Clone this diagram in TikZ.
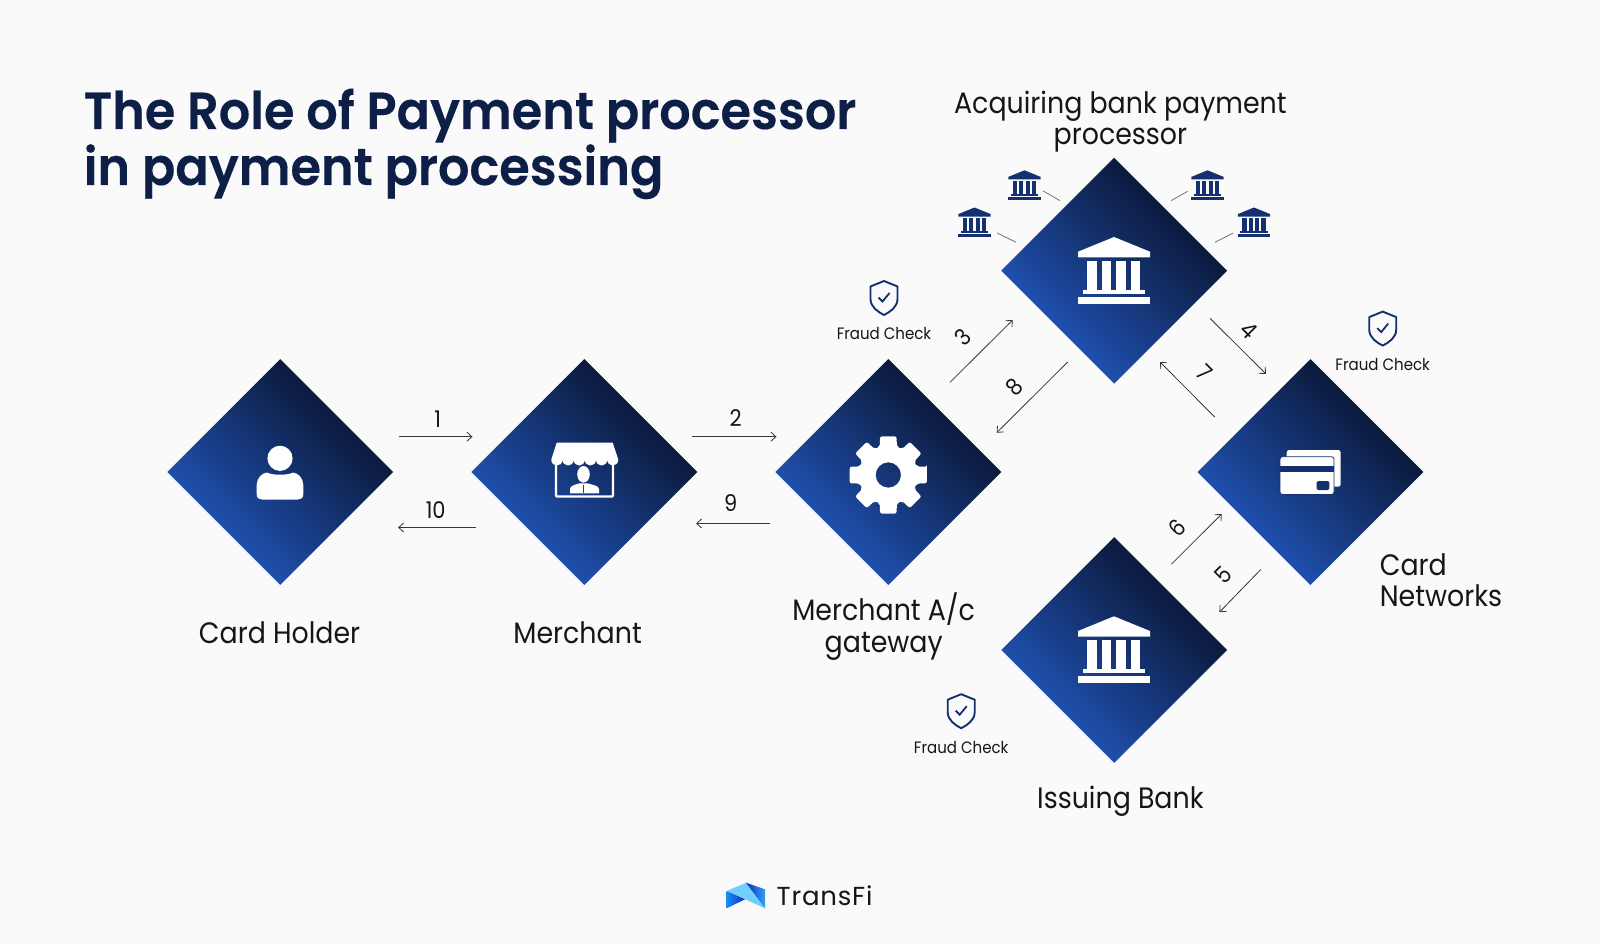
\documentclass[tikz,border=0pt]{standalone}
\usepackage{fontspec}
\usetikzlibrary{shapes.geometric,arrows.meta}
\setmainfont{Poppins}
\newfontfamily\titlefont[FakeStretch=.95,FakeBold=.25]{Poppins SemiBold}
\newfontfamily\labfont[FakeStretch=.91]{Poppins}
\newfontfamily\logofont[LetterSpace=3]{Poppins}
\definecolor{pagebg}{HTML}{FAFAFA}
\definecolor{navydark}{HTML}{0B1A3C}
\definecolor{navyblue}{HTML}{1F4FAD}
\definecolor{titlecol}{HTML}{0E1F47}
\definecolor{iconnavy}{HTML}{14306F}
\definecolor{inknear}{HTML}{161616}
\definecolor{logolight}{HTML}{72CFFB}
\definecolor{logobright}{HTML}{1A8CF5}
\definecolor{logodeep}{HTML}{0A2CBE}
\pgfdeclareverticalshading{diashade}{100bp}{color(0bp)=(navyblue); color(32bp)=(navyblue); color(68bp)=(navydark); color(100bp)=(navydark)}
\tikzset{
  dia/.style={shape=diamond,aspect=1,inner sep=0pt,minimum width=226pt,minimum height=226pt,
    shade,shading=diashade,shading angle=-45},
  lab/.style={font=\labfont\fontsize{29.5}{31}\selectfont,text=inknear,inner sep=0pt,anchor=base},
  fraud/.style={font=\labfont\fontsize{16.5}{18}\selectfont,text=inknear,inner sep=0pt,anchor=base},
  num/.style={font=\labfont\fontsize{23}{24}\selectfont,text=inknear,inner sep=0pt},
  ttl/.style={font=\titlefont\fontsize{52}{56}\selectfont,text=titlecol,inner sep=0pt,anchor=base west},
  arr/.style={draw=black!78,line width=.8pt,-{Straight Barb[length=5pt,width=9pt]}},
  tick/.style={draw=black!55,line width=.8pt},
  shieldline/.style={draw=iconnavy,line width=1.9pt,line join=round}
}
\newcommand{\bankico}[4]{%
  \begin{scope}[shift={(#1,#2)},scale=#3]
    \fill[#4] (0,-33.7) -- (36,-19) -- (36,-13.4) -- (-36,-13.4) -- (-36,-19) -- cycle;
    \fill[#4] (-26.7,-10) rectangle (-16.7,20);
    \fill[#4] (-12,-10) rectangle (-2.7,20);
    \fill[#4] (2.3,-10) rectangle (11.7,20);
    \fill[#4] (16.7,-10) rectangle (26.3,20);
    \fill[#4] (-30.8,19.3) rectangle (30.8,23.3);
    \fill[#4] (-36,26) rectangle (36,33.3);
  \end{scope}}
\newcommand{\shieldico}[2]{%
  \begin{scope}[shift={(#1,#2)}]
    \draw[shieldline] (0,-17) -- (13.5,-11.5) -- (13.5,1) .. controls (13.5,9) and (6,14) .. (0,17)
      .. controls (-6,14) and (-13.5,9) .. (-13.5,1) -- (-13.5,-11.5) -- cycle;
    \draw[draw=iconnavy,line width=1.8pt] (-5.5,-.5) -- (-1.5,3.5) -- (5.5,-5);
  \end{scope}}
\begin{document}
\begin{tikzpicture}[x=1pt,y=-1pt]
\fill[pagebg] (0,0) rectangle (1600,944);
\useasboundingbox (0,0) rectangle (1600,944);

% title
\node[ttl] (t1) at (83.5,129) {The Role of Payment processor};
\node[ttl] (t2) at (83.5,185) {in payment processing};

% diamonds
\node[dia] (holder) at (280.2,472) {};
\node[dia] (merch) at (584.4,472) {};
\node[dia] (gate) at (888.4,472) {};
\node[dia] (acq) at (1114.2,270.7) {};
\node[dia] (net) at (1310.4,472) {};
\node[dia] (iss) at (1114.2,650) {};

% person icon
\fill[white] (280,458.3) circle (12.6);
\fill[white] (256.7,494) -- (256.7,485) .. controls (256.7,478) and (262,473) .. (267,472.5)
  .. controls (272,475.5) and (288,475.5) .. (293,472.5) .. controls (298,473) and (303.3,478) .. (303.3,485)
  -- (303.3,494) .. controls (303.3,498) and (301,499.5) .. (298,499.5) -- (262,499.5)
  .. controls (259,499.5) and (256.7,498) .. (256.7,494) -- cycle;

% shop icon
\draw[white,line width=2.3pt,rounded corners=1pt] (556,462) -- (556,496.5) -- (613,496.5) -- (613,462);
\fill[white] (556.7,442.7) -- (612.7,442.7) -- (618.3,459.5) .. controls (618.3,467.5) and (607.2,467.5) .. (607.2,459.5)
  .. controls (607.2,467.5) and (596,467.5) .. (596,459.5) .. controls (596,467.5) and (584.8,467.5) .. (584.8,459.5)
  .. controls (584.8,467.5) and (573.7,467.5) .. (573.7,459.5) .. controls (573.7,467.5) and (562.5,467.5) .. (562.5,459.5)
  .. controls (562.5,467.5) and (551.3,467.5) .. (551.3,459.5) -- cycle;
\fill[white] (583.5,474.3) ellipse (6.3 and 8.3);
\fill[white] (570,493.3) -- (570,489) .. controls (570,485.5) and (576,484.5) .. (579.5,483.3) -- (587.5,483.3)
  .. controls (591,484.5) and (599,485.5) .. (599,489) -- (599,493.3) -- cycle;
\draw[navyblue!70!navydark,line width=1pt] (583.5,484.5) -- (583.5,493.3);

% gear icon
\begin{scope}[shift={(888.3,475)}]
  \fill[white,even odd rule,rounded corners=2pt]
    (-12:39.5)
    \foreach \a in {0,45,...,315} {
      -- (\a+12:39.5) -- (\a+17:29.5) -- (\a+28:29.5) -- (\a+33:39.5)
    } -- cycle (0,0) circle (12.7);
\end{scope}

% card icon
\fill[white,rounded corners=2.5pt] (1286.7,450) rectangle (1340.7,486.7);
\filldraw[fill=white,draw=iconnavy,line width=.8pt,rounded corners=2.5pt] (1280,456.7) rectangle (1334,494.5);
\fill[iconnavy] (1280.4,465.7) rectangle (1333.6,472.3);
\fill[iconnavy,rounded corners=1.5pt] (1316.7,481) rectangle (1329.3,490);

% banks
\bankico{1114}{270.7}{1}{white}
\bankico{1114}{650}{1}{white}
\bankico{1024.5}{185.3}{.445}{iconnavy}
\bankico{974.5}{222.5}{.445}{iconnavy}
\bankico{1207.5}{185.3}{.445}{iconnavy}
\bankico{1254}{222.5}{.445}{iconnavy}
\coordinate (b1a) at (1043.3,191); \coordinate (b1b) at (1060,200.7);
\coordinate (b2a) at (997.3,233); \coordinate (b2b) at (1016,242.3);
\coordinate (b3a) at (1187.7,191.3); \coordinate (b3b) at (1171,200.7);
\coordinate (b4a) at (1233.3,233); \coordinate (b4b) at (1215,242.3);
\draw[tick] (b1a) -- (b1b);
\draw[tick] (b2a) -- (b2b);
\draw[tick] (b3a) -- (b3b);
\draw[tick] (b4a) -- (b4b);

% shields
\shieldico{884}{298}
\shieldico{1382.7}{328.6}
\shieldico{961.2}{711.2}
\node[fraud] (f1) at (884,339.5) {Fraud Check};
\node[fraud] (f2) at (1382.7,370) {Fraud Check};
\node[fraud] (f3) at (961.2,753) {Fraud Check};

% labels
\node[lab] (l1) at (279.6,643) {Card Holder};
\node[lab] (l2) at (577.6,643) {Merchant};
\node[lab] (l3) at (883.7,620.5) {Merchant A/c};
\node[lab] (l3b) at (883.7,652) {gateway};
\node[lab] (l4) at (1120.4,113.5) {Acquiring bank payment};
\node[lab] (l4b) at (1120.4,145) {processor};
\node[lab,anchor=base west] (l5) at (1379.6,575) {Card};
\node[lab,anchor=base west] (l5b) at (1379.6,606.5) {Networks};
\node[lab] (l6) at (1120.4,808) {Issuing Bank};

% arrows
\coordinate (a1s) at (399,436.7); \coordinate (a1e) at (472.5,436.7);
\coordinate (a10s) at (475.5,527.5); \coordinate (a10e) at (398,527.5);
\coordinate (a2s) at (692,436.7); \coordinate (a2e) at (776.5,436.7);
\coordinate (a9s) at (770.4,523.5); \coordinate (a9e) at (696,523.5);
\coordinate (a3s) at (950,382.3); \coordinate (a3e) at (1012.7,320);
\coordinate (a8s) at (1067.7,362); \coordinate (a8e) at (996.7,432.7);
\coordinate (a4s) at (1210,318.3); \coordinate (a4e) at (1266,374);
\coordinate (a7s) at (1214.7,417); \coordinate (a7e) at (1160,362);
\coordinate (a6s) at (1171.3,564.3); \coordinate (a6e) at (1221.7,514);
\coordinate (a5s) at (1261,569.3); \coordinate (a5e) at (1219.4,612.2);
\foreach \n in {1,2,3,4,5,6,7,8,9,10} {\draw[arr] (a\n s) -- (a\n e);}

\node[num] (n1) at (437.7,419) {1};
\node[num] (n2) at (735.7,418) {2};
\node[num] (n10) at (435.7,510.5) {10};
\node[num] (n9) at (730.6,503.5) {9};
\node[num,rotate=45] (n3) at (963.3,337.3) {3};
\node[num,rotate=45] (n8) at (1014.3,386.7) {8};
\node[num,rotate=-45] (n4) at (1249.3,330.7) {4};
\node[num,rotate=-45] (n7) at (1204,372.7) {7};
\node[num,rotate=45] (n6) at (1176.7,527.7) {6};
\node[num,rotate=45] (n5) at (1223.3,575) {5};

% logo
\fill[logolight] (726.7,891) -- (746,882.7) -- (765,908.3) -- (745,899.3) -- cycle;
\shade[left color=logobright,right color=logodeep] (726.7,891) -- (745,899.3) -- (726.7,908.3) -- cycle;
\shade[left color=logodeep,right color=logobright!70!logolight] (746,882.7) -- (765,889.3) -- (765,908.3) -- cycle;
\node[font=\logofont\fontsize{26}{28}\selectfont,text=inknear,inner sep=0pt,anchor=base west] (logo) at (776.5,905) {TransFi};
\end{tikzpicture}
\end{document}
